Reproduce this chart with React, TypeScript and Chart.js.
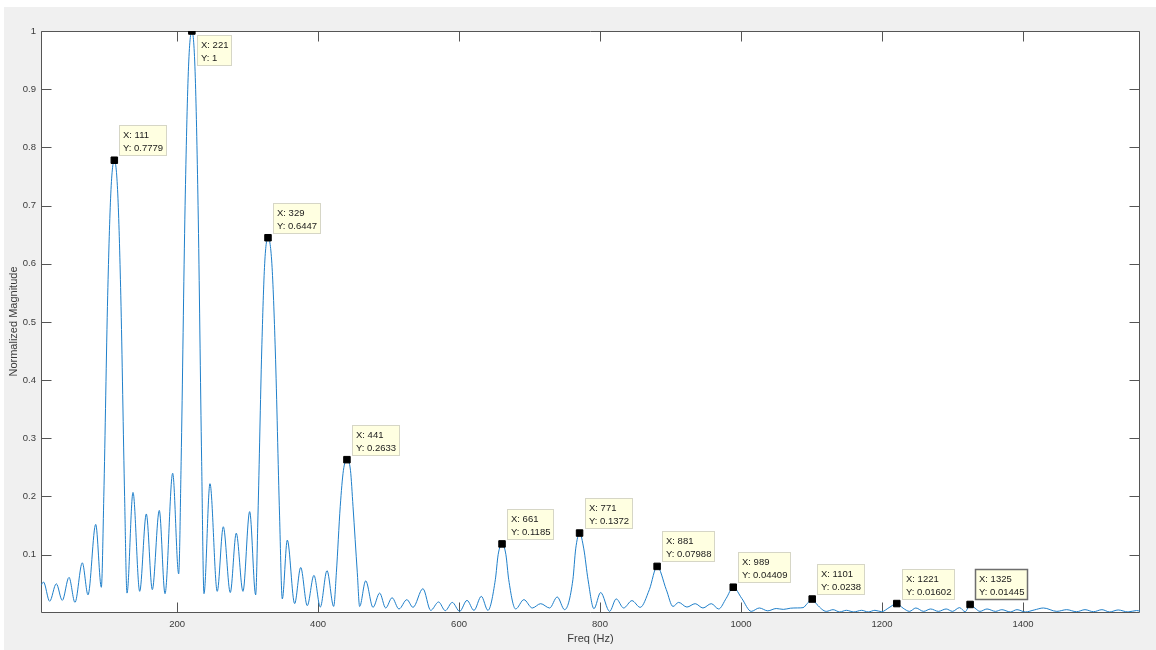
import React, { useEffect, useRef } from "react";
import { Chart, registerables } from "chart.js";

Chart.register(...registerables);

// Spectrum trace (Hz, normalized magnitude)
const freqHz = [
  7, 10.5, 19.3, 28.7, 37.2, 46.7, 55.2, 65.6, 73.7, 84.6, 92.6,
  96.1, 101.6, 106, 111, 115.9, 120.2, 125.6, 129,
  137.5, 147, 156.4, 164.9, 174.8, 182.9, 193.8, 202.3,
  205.8, 211.4, 216, 221, 225.6, 229.8, 234.9, 238.2,
  246.7, 257, 265.6, 275.5, 284, 293.5, 303, 311.5,
  314.8, 320.1, 324.3, 329, 334.5, 339.4, 345.4, 349.3,
  356.4, 366.8, 375.4, 384.7, 394.2, 403.2, 412.7, 422.2,
  426, 431.5, 436, 441, 446, 449.6, 455.7, 459,
  467.6, 478, 487.4, 496, 505, 514.8, 526, 534.7, 548.8, 559.8, 571, 580.5,
  590.4, 600.9, 611.3, 621.2, 631.6, 641,
  651.5, 655.5, 661, 666.5, 670.5, 680.3,
  692, 703.9, 715.8, 728.5, 739.3, 749.8,
  761.5, 765.5, 771, 777, 783, 791.4,
  800.9, 813.6, 823, 833.5, 845.3, 857,
  870, 881, 894, 903.5, 911.5, 923.3, 935, 946, 957.8, 968.3,
  979, 989, 1001, 1014.5, 1026, 1038, 1050, 1060, 1070, 1080, 1088,
  1094, 1101, 1108, 1121, 1130.6, 1140, 1149.5, 1160, 1171, 1180.5, 1190, 1199.5,
  1210, 1221, 1230, 1239, 1248, 1259, 1269, 1280, 1291, 1300, 1310, 1318,
  1325, 1332, 1339, 1349, 1361, 1370, 1382, 1391.5, 1403.4, 1416, 1429,
  1448, 1462, 1476, 1488, 1500, 1512, 1523, 1535, 1549, 1561, 1566,
];
const magnitude = [
  0.047, 0.053, 0.02, 0.05, 0.0215, 0.061, 0.018, 0.086, 0.031, 0.152, 0.044,
  0.2, 0.545, 0.72, 0.7779, 0.72, 0.545, 0.2, 0.034,
  0.207, 0.037, 0.17, 0.04, 0.176, 0.033, 0.24, 0.067,
  0.26, 0.7, 0.93, 1.0, 0.93, 0.7, 0.26, 0.033,
  0.222, 0.037, 0.148, 0.035, 0.137, 0.037, 0.174, 0.031,
  0.168, 0.45, 0.6, 0.6447, 0.6, 0.45, 0.168, 0.024,
  0.125, 0.016, 0.078, 0.0124, 0.0645, 0.01, 0.0725, 0.011,
  0.069, 0.183, 0.245, 0.2633, 0.245, 0.183, 0.069, 0.011,
  0.055, 0.0095, 0.034, 0.0084, 0.026, 0.0067, 0.0227, 0.0095, 0.0416, 0.0043, 0.0187, 0.0038,
  0.018, 0.0026, 0.0215, 0.0043, 0.0284, 0.0043,
  0.057, 0.1, 0.1185, 0.1, 0.057, 0.0067,
  0.0227, 0.0084, 0.0158, 0.0084, 0.0273, 0.0055,
  0.057, 0.11, 0.1372, 0.11, 0.057, 0.0072,
  0.035, 0.0026, 0.024, 0.0084, 0.021, 0.0095,
  0.04, 0.07988, 0.04, 0.011, 0.018, 0.01, 0.0158, 0.0084, 0.0158, 0.0067,
  0.025, 0.04409, 0.025, 0.0026, 0.0084, 0.0035, 0.0075, 0.006, 0.008, 0.0085, 0.009,
  0.016, 0.0238, 0.014, 0.0026, 0.0055, 0.0016, 0.0044, 0.0016, 0.0044, 0.0016, 0.0044, 0.002,
  0.009, 0.01602, 0.008, 0.0026, 0.0084, 0.0026, 0.0067, 0.0026, 0.0067, 0.0026, 0.009, 0.002,
  0.01445, 0.008, 0.0026, 0.0067, 0.0026, 0.0055, 0.0016, 0.0055, 0.0016, 0.005, 0.0084,
  0.0026, 0.0055, 0.002, 0.0055, 0.002, 0.0055, 0.0016, 0.005, 0.0016, 0.004, 0.003,
];

// Data tips
const tipX = [111, 221, 329, 441, 661, 771, 881, 989, 1101, 1221, 1325];
const tipY = [0.7779, 1, 0.6447, 0.2633, 0.1185, 0.1372, 0.07988, 0.04409, 0.0238, 0.01602, 0.01445];

// Axis ticks
const xTicks = [200, 400, 600, 800, 1000, 1200, 1400];
const yTicks = [0.1, 0.2, 0.3, 0.4, 0.5, 0.6, 0.7, 0.8, 0.9, 1];

const FONT = "'Liberation Sans', Arial, Helvetica, sans-serif";
const AXIS = "#555555";
const TEXT = "#3a3a3a";

const framePlugin = {
  id: "matlabFrame",
  beforeDraw(chart: any) {
    const { ctx, width, height, chartArea: a } = chart;
    ctx.save();
    ctx.fillStyle = "#ffffff";
    ctx.fillRect(0, 0, width, height);
    ctx.fillStyle = "#f0f0f0";
    ctx.fillRect(4, 7, width - 4, height - 7);
    ctx.fillStyle = "#ffffff";
    ctx.fillRect(a.left, a.top, a.right - a.left, a.bottom - a.top);
    ctx.restore();
  },
  beforeDatasetsDraw(chart: any) {
    const { ctx, chartArea: a, scales } = chart;
    const L = Math.round(a.left) + 0.5;
    const R = Math.round(a.right) - 0.5;
    const T = Math.round(a.top) + 0.5;
    const B = Math.round(a.bottom) + 0.5;
    const tl = 10;
    ctx.save();
    ctx.strokeStyle = AXIS;
    ctx.lineWidth = 1;
    ctx.beginPath();
    ctx.rect(L, T, R - L, B - T);
    scales.x.ticks.forEach((t: any) => {
      const px = Math.round(scales.x.getPixelForValue(t.value)) + 0.5;
      ctx.moveTo(px, B);
      ctx.lineTo(px, B - tl);
      ctx.moveTo(px, T);
      ctx.lineTo(px, T + tl);
    });
    scales.y.ticks.forEach((t: any) => {
      const py = Math.round(scales.y.getPixelForValue(t.value)) + 0.5;
      ctx.moveTo(L, py);
      ctx.lineTo(L + tl, py);
      ctx.moveTo(R, py);
      ctx.lineTo(R - tl, py);
    });
    ctx.stroke();
    ctx.restore();
  },
  afterDraw(chart: any) {
    const { ctx, chartArea: a, scales } = chart;
    ctx.save();
    ctx.font = `9.5px ${FONT}`;
    ctx.textBaseline = "middle";
    ctx.textAlign = "left";
    tipX.forEach((xv, i) => {
      const px = scales.x.getPixelForValue(xv);
      const py = scales.y.getPixelForValue(tipY[i]);
      const l1 = `X: ${xv}`;
      const l2 = `Y: ${String(tipY[i])}`;
      const w = Math.ceil(Math.max(ctx.measureText(l1).width, ctx.measureText(l2).width)) + 7;
      const h = 31;
      let top = py - 4 - h;
      if (top < a.top) top = py + 4;
      const left = Math.round(px + 5);
      top = Math.round(top);
      const selected = i === tipX.length - 1;
      ctx.fillStyle = "#ffffe1";
      ctx.fillRect(left, top, w, h);
      ctx.strokeStyle = selected ? "#6e6e6e" : "#d6d6c6";
      ctx.lineWidth = selected ? 1.5 : 1;
      ctx.strokeRect(left + 0.5, top + 0.5, w - 1, h - 1);
      ctx.fillStyle = "#1a1a1a";
      ctx.fillText(l1, left + 4, top + 10);
      ctx.fillText(l2, left + 4, top + 23);
    });
    ctx.restore();
  },
};

export default function App() {
  const ref = useRef<HTMLCanvasElement | null>(null);

  useEffect(() => {
    if (!ref.current) return;
    const line = freqHz.map((f, i) => ({ x: f, y: magnitude[i] }));
    const tips = tipX.map((f, i) => ({ x: f, y: tipY[i] }));
    const chart = new Chart(ref.current, {
      type: "line",
      data: {
        datasets: [
          {
            data: tips,
            showLine: false,
            pointStyle: "rect",
            pointRadius: 4.6,
            backgroundColor: "#000000",
            borderColor: "#000000",
            borderWidth: 1,
            order: 0,
          } as any,
          {
            data: line,
            borderColor: "#1f7fca",
            borderWidth: 1,
            pointRadius: 0,
            cubicInterpolationMode: "monotone",
            fill: false,
            order: 1,
          } as any,
        ],
      },
      options: {
        animation: false,
        responsive: false,
        devicePixelRatio: 1,
        events: [],
        layout: { padding: { left: 0, top: 31, right: 16, bottom: 0 } },
        plugins: { legend: { display: false }, tooltip: { enabled: false } },
        scales: {
          x: {
            type: "linear",
            min: 7,
            max: 1566,
            afterFit(s: any) {
              s.height = 38;
            },
            afterBuildTicks(s: any) {
              s.ticks = xTicks.map((v) => ({ value: v }));
            },
            grid: { display: false, drawTicks: false },
            border: { display: false },
            ticks: {
              font: { family: FONT, size: 9.5 },
              color: TEXT,
              padding: 7,
              maxRotation: 0,
              autoSkip: false,
              callback: (v: any) => String(v),
            },
            title: {
              display: true,
              text: "Freq (Hz)",
              font: { family: FONT, size: 11 },
              color: TEXT,
              padding: { top: 0, bottom: 4 },
            },
          },
          y: {
            type: "linear",
            min: 0.0015,
            max: 1,
            afterFit(s: any) {
              s.width = 41;
            },
            afterBuildTicks(s: any) {
              s.ticks = yTicks.map((v) => ({ value: v }));
            },
            grid: { display: false, drawTicks: false },
            border: { display: false },
            ticks: {
              font: { family: FONT, size: 9.5 },
              color: TEXT,
              padding: 5,
              autoSkip: false,
              callback: (v: any) => String(Math.round(v * 10) / 10),
            },
            title: {
              display: true,
              text: "Normalized Magnitude",
              font: { family: FONT, size: 11 },
              color: TEXT,
              padding: { top: 7, bottom: 0 },
            },
          },
        },
      },
      plugins: [framePlugin],
    });
    return () => chart.destroy();
  }, []);

  return (
    <div style={{ position: "absolute", left: 0, top: 0, width: 1156, height: 650 }}>
      <canvas ref={ref} width={1156} height={650} style={{ display: "block" }} />
    </div>
  );
}
